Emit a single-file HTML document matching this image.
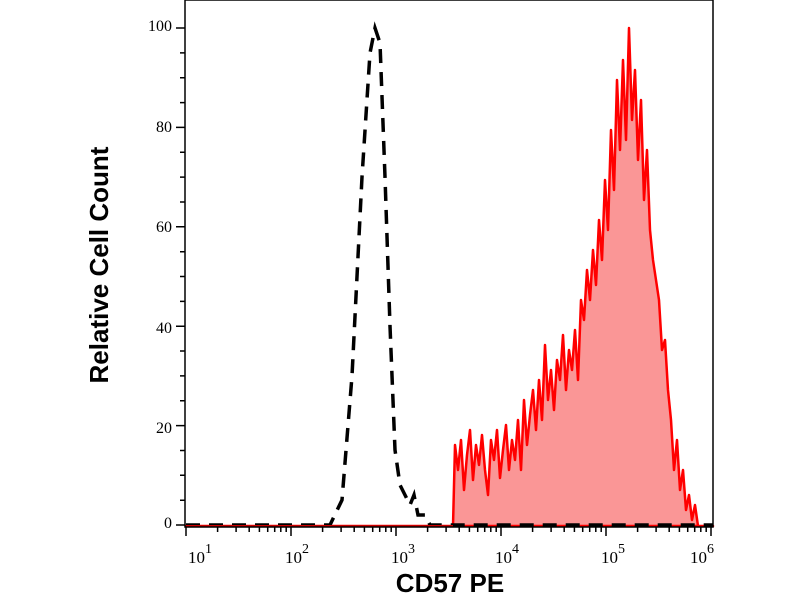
<!DOCTYPE html>
<html><head><style>body{margin:0;background:#fff}svg{display:block}</style></head><body>
<svg width="800" height="600" xmlns="http://www.w3.org/2000/svg" font-family="Liberation Serif, serif">
<rect width="800" height="600" fill="#fff"/>
<path fill="#fa9696" stroke="#f00" stroke-width="2.5" stroke-linejoin="round" d="M186,526 L453,526 L455,445 458,470 461,440 464,490 467,455 470,430 473,480 476,445 479,465 482,435 485,470 488,495 491,440 494,460 497,430 500,478 503,450 506,425 509,470 512,440 515,460 518,420 521,470 524,400 527,445 530,415 533,390 536,430 539,380 542,420 545,345 548,400 551,370 554,410 557,360 560,380 563,335 566,390 569,350 572,370 575,330 578,380 581,300 584,320 587,270 590,300 593,250 596,285 599,220 602,260 605,180 608,230 611,130 614,190 617,80 620,150 623,60 626,140 629,28 632,120 635,70 638,160 641,100 644,200 647,150 650,230 653,260 656,280 659,300 662,350 665,340 668,390 671,420 674,470 677,440 680,490 683,470 686,510 689,495 692,520 695,505 698,526 713,526 Z"/>
<path fill="none" stroke="#000" stroke-width="3.5" stroke-dasharray="14,9" d="M186,525 L330,525 342,500 352,376 362,177 370,53 375,28 380,43 385,177 390,326 395,450 400,485 405,495 410,505 414,495 418,515 425,515 430,525 713,525"/>
<line x1="186" y1="526" x2="453" y2="526" stroke="#c00" stroke-width="2"/>
<rect x="185" y="0" width="528" height="527" fill="none" stroke="#000" stroke-width="1.5"/>
<path stroke="#000" stroke-width="1.5" fill="none" d="
M176,525H185M180,500.2H185M180,475.3H185M180,450.5H185M176,425.6H185M180,400.8H185M180,375.9H185M180,351H185M176,326.2H185M180,301.4H185M180,276.5H185M180,251.7H185M176,226.8H185M180,202H185M180,177.1H185M180,152.3H185M176,127.4H185M180,102.6H185M180,77.7H185M180,52.9H185M176,28H185
M186,527v9M291,527v9M396,527v9M501,527v9M606,527v9M711,527v9
M217.6,527v5M236.1,527v5M249.2,527v5M259.4,527v5M267.7,527v5M274.7,527v5M280.8,527v5M286.2,527v5
M322.6,527v5M341.1,527v5M354.2,527v5M364.4,527v5M372.7,527v5M379.7,527v5M385.8,527v5M391.2,527v5
M427.6,527v5M446.1,527v5M459.2,527v5M469.4,527v5M477.7,527v5M484.7,527v5M490.8,527v5M496.2,527v5
M532.6,527v5M551.1,527v5M564.2,527v5M574.4,527v5M582.7,527v5M589.7,527v5M595.8,527v5M601.2,527v5
M637.6,527v5M656.1,527v5M669.2,527v5M679.4,527v5M687.7,527v5M694.7,527v5M700.8,527v5M706.2,527v5"/>
<g font-size="16" text-anchor="end">
<text x="172" y="31">100</text><text x="172" y="132">80</text><text x="172" y="232">60</text>
<text x="172" y="333">40</text><text x="172" y="433">20</text><text x="172" y="528">0</text>
</g>
<g font-size="17">
<text x="188" y="563">10<tspan font-size="14" dy="-10">1</tspan></text>
<text x="285" y="563">10<tspan font-size="14" dy="-10">2</tspan></text>
<text x="391" y="563">10<tspan font-size="14" dy="-10">3</tspan></text>
<text x="495" y="563">10<tspan font-size="14" dy="-10">4</tspan></text>
<text x="601" y="563">10<tspan font-size="14" dy="-10">5</tspan></text>
<text x="690" y="563">10<tspan font-size="14" dy="-10">6</tspan></text>
</g>
<text transform="translate(108,265) rotate(-90)" font-family="Liberation Sans, sans-serif" font-weight="bold" font-size="26" text-anchor="middle">Relative Cell Count</text>
<text x="450" y="592" font-family="Liberation Sans, sans-serif" font-weight="bold" font-size="26" text-anchor="middle">CD57 PE</text>
</svg>
</body></html>
